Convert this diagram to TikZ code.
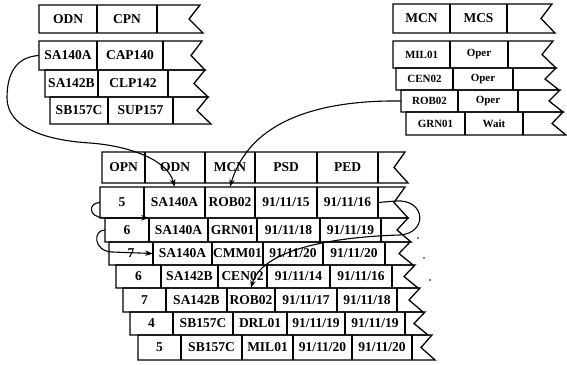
\documentclass[tikz,border=0pt]{standalone}
\usepackage{fontspec}
\setmainfont{Liberation Serif}
\usetikzlibrary{arrows.meta}

\tikzset{
  rowline/.style={line width=1.3pt, line join=miter},
  cell/.style={inner sep=0pt, font=\fontsize{13.5}{13.5}\selectfont\bfseries},
  cellsm/.style={inner sep=0pt, font=\fontsize{11}{11}\selectfont\bfseries},
  link/.style={line width=1.1pt, -{Stealth[length=7.5pt,width=5.5pt]}},
}

% One table row: [text style]{top}{bottom}{left}{right tip}{left/right/text/name,...}
% The row is closed on the right by a torn "<" edge.
\newcommand\tabrow[6][cell]{%
  \draw[rowline] (#4,#2) -- (#5,#2) -- ({#5-11},{(#2+#3)/2}) -- ({#5+3},#3) -- (#4,#3) -- cycle;
  \foreach \xa/\xb/\txt/\nm in {#6} {
    \draw[rowline] (\xb,#2) -- (\xb,#3);
    \node[#1, minimum width={\xb-\xa}, minimum height={#3-#2}] (\nm) at ({(\xa+\xb)/2},{(#2+#3)/2}) {\txt};
  }%
}

\begin{document}
\begin{tikzpicture}[x=1pt,y=-1pt]
\useasboundingbox (0,0) rectangle (567,364);

% order table (top left)
\tabrow{5}{33}{39}{200}{39/97/ODN/ha, 97/157/CPN/hb}
\tabrow{41}{70}{39}{202}{39/97/SA140A/la, 97/163/CAP140/lb}
\tabrow{70}{97}{45}{205}{45/98/SA142B/lc, 98/168/CLP142/ld}
\tabrow{97}{124}{50}{208}{50/108/SB157C/le, 108/173/SUP157/lf}

% machine table (top right)
\tabrow{4}{33}{393}{552}{393/450/MCN/ra, 450/507/MCS/rb}
\tabrow[cellsm]{41}{68}{393}{553}{393/450/MIL01/rc, 450/508/Oper/rd}
\tabrow[cellsm]{68}{90}{396}{556}{396/453/CEN02/re, 453/513/Oper/rf}
\tabrow[cellsm]{90}{112}{401}{560}{401/458/ROB02/rg, 458/518/Oper/rh}
\tabrow[cellsm]{112}{135}{406}{563}{406/465/GRN01/ri, 465/523/Wait/rj}

% operation table (bottom)
\tabrow{152}{183}{102}{405}{102/145/OPN/hA, 145/205/ODN/hB, 205/255/MCN/hC, 255/317/PSD/hD, 317/378/PED/hE}
\tabrow{187}{218}{100}{405}{100/144/5/m1a, 144/205/SA140A/m1b, 205/255/ROB02/m1c, 255/317/{91/11/15}/m1d, 317/378/{91/11/16}/m1e}
\tabrow{218}{242}{105}{408}{105/149/6/m2a, 149/208/SA140A/m2b, 208/257/GRN01/m2c, 257/320/{91/11/18}/m2d, 320/381/{91/11/19}/m2e}
\tabrow{242}{265}{109}{410}{109/153/7/m3a, 153/212/SA140A/m3b, 212/263/CMM01/m3c, 263/323/{91/11/20}/m3d, 323/385/{91/11/20}/m3e}
\tabrow{265}{288}{116}{415}{116/161/6/m4a, 161/218/SA142B/m4b, 218/267/CEN02/m4c, 267/330/{91/11/14}/m4d, 330/392/{91/11/16}/m4e}
\tabrow{288}{312}{123}{420}{123/166/7/m5a, 166/227/SA142B/m5b, 227/275/ROB02/m5c, 275/337/{91/11/17}/m5d, 337/397/{91/11/18}/m5e}
\tabrow{312}{335}{130}{425}{130/173/4/m6a, 173/233/SB157C/m6b, 233/287/DRL01/m6c, 287/345/{91/11/19}/m6d, 345/405/{91/11/19}/m6e}
\tabrow{335}{360}{138}{432}{138/181/5/m7a, 181/242/SB157C/m7b, 242/293/MIL01/m7c, 293/352/{91/11/20}/m7d, 352/412/{91/11/20}/m7e}

% pointers
\draw[link] (la.west) .. controls (15,57) and (7,75) .. (7,98)
  .. controls (7,125) and (40,140) .. (90,143)
  .. controls (130,146) and (168,160) .. (m1b.north);
\draw[link] (rg.west) .. controls (320,100) and (250,120) .. (m1c.north);
\draw[link] (m1a.west) .. controls (88,203) and (88,217) .. (104,218) -- (m2b.north west);
\draw[link] (m2a.west) .. controls (93,230) and (93,251) .. (112,252) -- (m3b.west);
\draw[link] (m1e.east) -- (396,201) .. controls (426,199) and (428,233) .. (400,235)
  .. controls (330,237) and (262,250) .. (m5c.north);

% specks on the right
\fill (418,238) circle (0.9);
\fill (424,258) circle (0.9);
\fill (430,280) circle (0.9);
\end{tikzpicture}
\end{document}
